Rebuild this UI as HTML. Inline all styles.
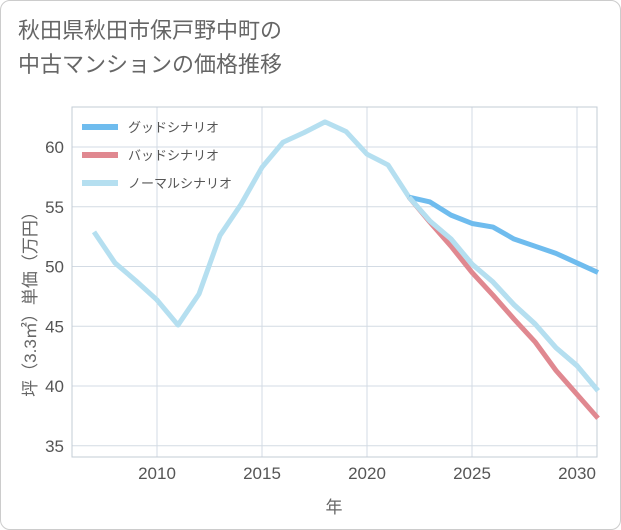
<!DOCTYPE html>
<html><head><meta charset="utf-8"><style>
body{margin:0;width:621px;height:530px;overflow:hidden;background:#fff;font-family:"Liberation Sans","Noto Sans CJK JP",sans-serif}
#frame{position:absolute;left:0;top:0;width:619px;height:528px;border:1px solid #ccc;border-radius:10px}
#title{position:absolute;left:18px;top:14px;font-size:22px;line-height:34px;color:#666}
</style></head><body>
<div id="frame"></div>
<div id="title">秋田県秋田市保戸野中町の<br>中古マンションの価格推移</div>
<svg id="chart" width="621" height="530" style="position:absolute;left:0;top:0"></svg>
<script>
const years=[2007,2008,2009,2010,2011,2012,2013,2014,2015,2016,2017,2018,2019,2020,2021,2022,2023,2024,2025,2026,2027,2028,2029,2030,2031];
const normal=[52.9,50.3,48.8,47.2,45.1,47.7,52.6,55.2,58.3,60.4,61.2,62.1,61.3,59.4,58.5,55.8,53.8,52.3,50.2,48.7,46.8,45.2,43.2,41.7,39.6];
const fYears=[2022,2023,2024,2025,2026,2027,2028,2029,2030,2031];
const good=[55.8,55.4,54.3,53.6,53.3,52.3,51.7,51.1,50.3,49.5];
const bad=[55.8,53.7,51.7,49.5,47.6,45.6,43.7,41.3,39.3,37.3];
const xTicks=[2010,2015,2020,2025,2030];
const yTicks=[35,40,45,50,55,60];
const L=72,R=597,T=107,B=457;
const x=v=>157+(v-2010)*21;
const y=v=>147+(60-v)*11.95;
const svg=document.getElementById('chart');
const NS='http://www.w3.org/2000/svg';
function mk(t,a,p){const e=document.createElementNS(NS,t);for(const k in a)e.setAttribute(k,a[k]);(p||svg).appendChild(e);return e;}
yTicks.forEach(v=>{
 let g=mk('line',{x1:L,x2:R,y1:y(v),y2:y(v),stroke:'#d3dbe4'});
 
 
 let t=mk('text',{x:L-8,y:y(v)+6,'text-anchor':'end','font-size':17,fill:'#555'});t.textContent=v;
 
 
});
xTicks.forEach(v=>{
 let g=mk('line',{x1:x(v),x2:x(v),y1:T,y2:B,stroke:'#d3dbe4'});
 
 
 let t=mk('text',{x:x(v),y:B+22,'text-anchor':'middle','font-size':17,fill:'#555'});t.textContent=v;
 
 
});
let e=mk('rect',{x:L,y:T,width:R-L,height:B-T,fill:'none',stroke:'#c3ccd6'});


let xt=mk('text',{x:334,y:513,'text-anchor':'middle','font-size':17,fill:'#666'});xt.textContent='年';


let yt=mk('text',{x:0,y:0,'text-anchor':'middle','font-size':17,fill:'#666',transform:'translate(36,300) rotate(-90)'});yt.textContent='坪（3.3㎡）単価（万円）';


function line(xs,ys,c,n){let d=xs.map((v,i)=>(i?'L':'M')+x(v)+','+y(ys[i])).join('');
 let p=mk('path',{d:d,fill:'none',stroke:c,'stroke-width':5,'stroke-linejoin':'round'});
 
 }
line(years,normal,'#b5dff0','normal-series-line');
line(fYears,bad,'#e08890','bad-series-line');
line(fYears,good,'#6fbcee','good-series-line');
line(fYears,normal.slice(15),'#b5dff0','normal-forecast-line');
[['グッドシナリオ','#6fbcee'],['バッドシナリオ','#e08890'],['ノーマルシナリオ','#b5dff0']].forEach((l,i)=>{
 let yy=127+i*28;
 let s=mk('line',{x1:82,x2:118,y1:yy,y2:yy,stroke:l[1],'stroke-width':6});
 
 
 let t=mk('text',{x:128,y:yy+5,'font-size':13,fill:'#555'});t.textContent=l[0];
 
 
});
</script>
</body></html>
